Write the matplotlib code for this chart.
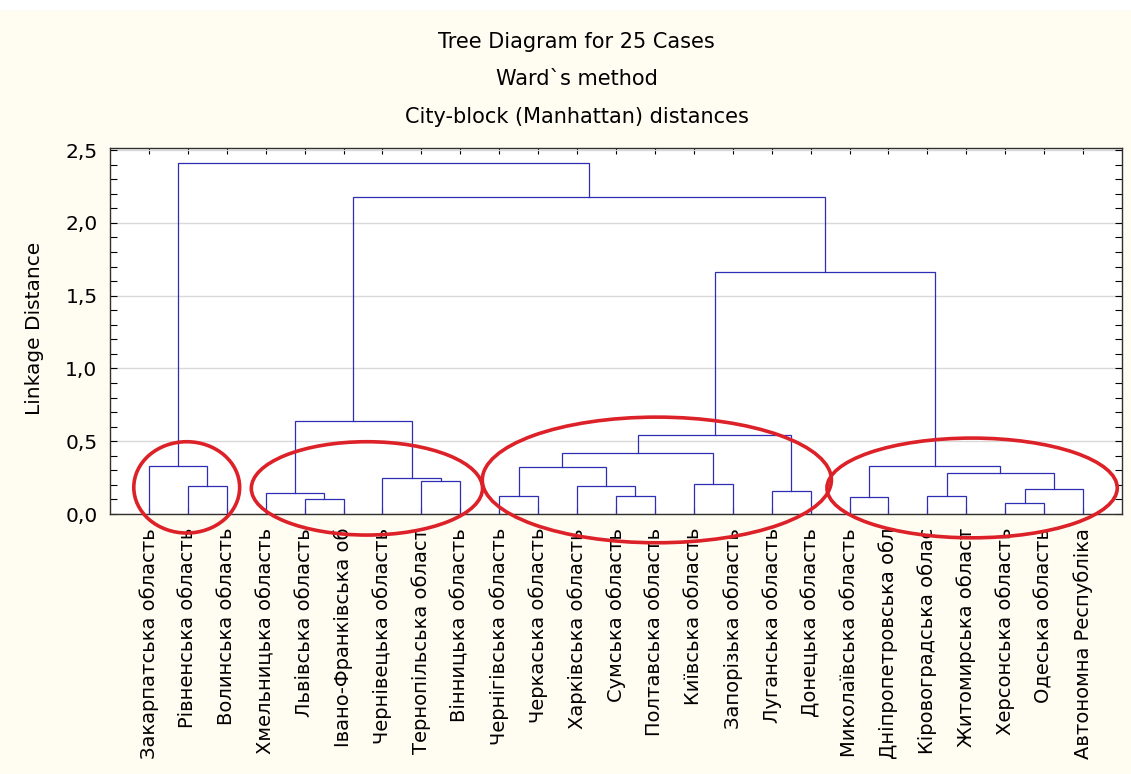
import matplotlib
matplotlib.use("Agg")
import matplotlib.pyplot as plt
from matplotlib.patches import Ellipse, Rectangle
from matplotlib.ticker import MultipleLocator, FuncFormatter

# leaves in the order they appear on the x axis
regions = [
    "Закарпатська область", "Рівненська область", "Волинська область",
    "Хмельницька область", "Львівська область", "Івано-Франківська об",
    "Чернівецька область", "Тернопільська област", "Вінницька область",
    "Чернігівська область", "Черкаська область", "Харківська область",
    "Сумська область", "Полтавська область", "Київська область",
    "Запорізька область", "Луганська область", "Донецька область",
    "Миколаївська область", "Дніпропетровська обл", "Кіровоградська облас",
    "Житомирська област", "Херсонська область", "Одеська область",
    "Автономна Республіка",
]

# merges: left id, right id (leaves 0..24, new clusters from 25), linkage distance
merge_left = [1, 0, 4, 3, 7, 6, 28, 9, 12, 11, 32, 14, 35, 16, 37,
              18, 20, 22, 42, 41, 40, 39, 31, 26]
merge_right = [2, 25, 5, 27, 8, 29, 30, 10, 13, 33, 34, 15, 36, 17, 38,
               19, 21, 23, 24, 43, 44, 45, 46, 47]
merge_dist = [0.194, 0.332, 0.103, 0.146, 0.229, 0.247, 0.639, 0.126, 0.126,
              0.194, 0.320, 0.206, 0.417, 0.160, 0.545, 0.119, 0.126, 0.078,
              0.170, 0.282, 0.332, 1.662, 2.175, 2.413]

titles = ["Tree Diagram for 25 Cases", "Ward`s method",
          "City-block (Manhattan) distances"]

plt.rcParams['font.family'] = ['DejaVu Sans']

fig = plt.figure(figsize=(11.31, 7.74), dpi=100, facecolor='#fffcf2')
fig.patches.append(Rectangle((0, 0.987), 1, 0.013, transform=fig.transFigure,
                             facecolor='white', edgecolor='none'))
ax = fig.add_axes([0.0973, 0.3359, 0.8947, 0.4729])
ax.set_facecolor('white')

n = len(regions)
xpos = {i: i + 1.0 for i in range(n)}
hgt = {i: 0.0 for i in range(n)}
for k, (a, b, d) in enumerate(zip(merge_left, merge_right, merge_dist)):
    node = n + k
    ax.plot([xpos[a], xpos[a], xpos[b], xpos[b]], [hgt[a], d, d, hgt[b]],
            color='#2e2eb4', lw=0.9, solid_joinstyle='miter', zorder=3)
    xpos[node] = (xpos[a] + xpos[b]) / 2
    hgt[node] = d

ax.set_xlim(0, n + 1)
ax.set_ylim(0, 2.514)
ax.set_xticks(range(1, n + 1))
ax.set_xticklabels(regions, rotation=90, va='top', ha='center', fontsize=14)
ax.yaxis.set_major_locator(MultipleLocator(0.5))
ax.yaxis.set_minor_locator(MultipleLocator(0.1))
ax.yaxis.set_major_formatter(FuncFormatter(lambda v, p: f"{v:.1f}".replace('.', ',')))
ax.tick_params(axis='y', which='both', direction='in', left=True, right=True,
               length=5, width=0.8, labelsize=14.5, pad=9)
ax.tick_params(axis='x', direction='in', top=True, bottom=True, length=4,
               width=0.8, pad=10)
ax.grid(axis='y', which='major', color='#d9d9d9', lw=1.0, zorder=0)
ax.set_axisbelow(True)
for s in ax.spines.values():
    s.set_color('#303030')
    s.set_linewidth(1.0)

# red hand-drawn group marks
marks = [(1.97, 0.183, 2.72, 0.627), (6.6, 0.176, 5.94, 0.641),
         (14.05, 0.234, 8.97, 0.863), (22.15, 0.179, 7.46, 0.685)]
for cx, cy, w, h in marks:
    ax.add_patch(Ellipse((cx, cy), w, h, fill=False, edgecolor='#dc2128',
                         lw=2.6, clip_on=False, zorder=5))

for t, yy in zip(titles, [42, 79, 117]):
    fig.text(0.510, 1 - yy / 774, t, ha='center', va='center', fontsize=15)
fig.text(35 / 1131, 1 - 328 / 774, "Linkage Distance", rotation=90,
         ha='center', va='center', fontsize=14.5)

fig.savefig("out.png", dpi=100, facecolor=fig.get_facecolor())
